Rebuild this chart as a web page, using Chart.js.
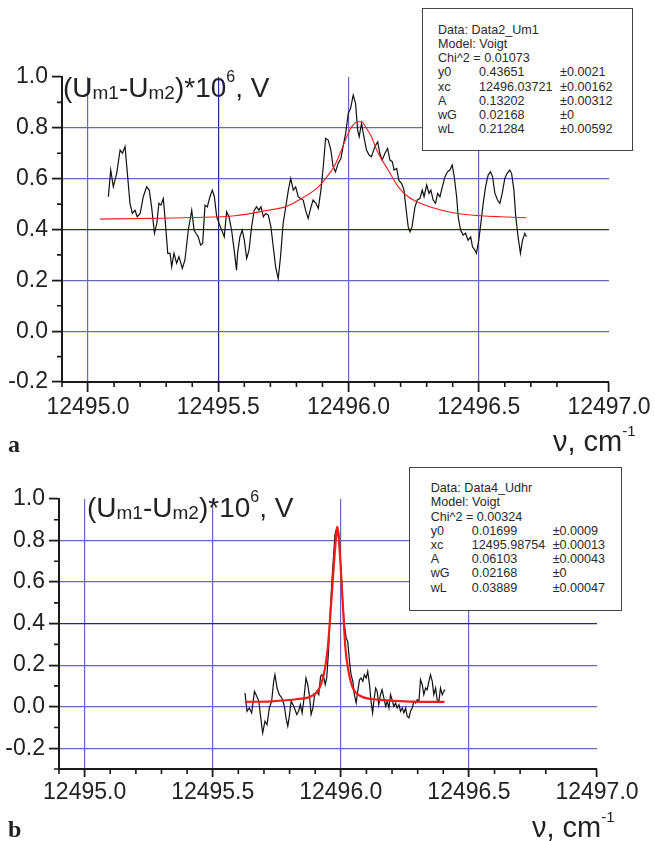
<!DOCTYPE html>
<html>
<head>
<meta charset="utf-8">
<script src="https://cdn.jsdelivr.net/npm/chart.js@4.4.0/dist/chart.umd.min.js"></script>
<style>
  body { margin: 0; background: #fff; }
  #page { position: relative; width: 655px; height: 841px; overflow: hidden; font-family: "Liberation Sans", Arial, sans-serif; color: #222; }
  canvas { position: absolute; left: 0; }
  .t { position: absolute; white-space: nowrap; line-height: 1; }
  .ytitle { font-size: 28px; }
  .ytitle .sub { font-size: 19px; position: relative; top: 2px; }
  .ytitle .sup { font-size: 16px; position: relative; top: -15px; }
  .xtitle { font-size: 29px; }
  .xtitle .sup { font-size: 15px; position: relative; top: -15px; }
  .panel { font-family: "Liberation Serif", "Times New Roman", serif; font-weight: bold; font-size: 24px; }
  .box { position: absolute; background: #fff; border: 1.3px solid #444; box-sizing: border-box; font-size: 12.6px; color: #2a2a2a; line-height: 14.2px; white-space: nowrap; }
  .c1 { display: inline-block; width: 41px; }
  .c2 { display: inline-block; width: 81px; }
</style>
</head>
<body>
<div id="page">
  <canvas id="chartA" width="655" height="440" style="top:0"></canvas>
  <canvas id="chartB" width="655" height="401" style="top:440px"></canvas>

  <div class="t ytitle" style="left:63px; top:74px">(U<span class="sub">m1</span>-U<span class="sub">m2</span>)*10<span class="sup">6</span>, V</div>
  <div class="t ytitle" style="left:87px; top:494px">(U<span class="sub">m1</span>-U<span class="sub">m2</span>)*10<span class="sup">6</span>, V</div>

  <div class="t xtitle" style="left:553px; top:427px">ν, cm<span class="sup">-1</span></div>
  <div class="t xtitle" style="left:532px; top:813px">ν, cm<span class="sup">-1</span></div>

  <div class="t panel" style="left:8px; top:432px">a</div>
  <div class="t panel" style="left:8px; top:817px">b</div>

  <div class="box" style="left:422px; top:8px; width:211px; height:143px; padding:13.8px 0 0 15px">
    <div>Data: Data2_Um1</div>
    <div>Model: Voigt</div>
    <div>Chi^2 = 0.01073</div>
    <div><span class="c1">y0</span><span class="c2">0.43651</span>±0.0021</div>
    <div><span class="c1">xc</span><span class="c2">12496.03721</span>±0.00162</div>
    <div><span class="c1">A</span><span class="c2">0.13202</span>±0.00312</div>
    <div><span class="c1">wG</span><span class="c2">0.02168</span>±0</div>
    <div><span class="c1">wL</span><span class="c2">0.21284</span>±0.00592</div>
  </div>

  <div class="box" style="left:409px; top:467px; width:213px; height:144px; padding:13.2px 0 0 20.7px">
    <div>Data: Data4_Udhr</div>
    <div>Model: Voigt</div>
    <div>Chi^2 = 0.00324</div>
    <div><span class="c1">y0</span><span class="c2">0.01699</span>±0.0009</div>
    <div><span class="c1">xc</span><span class="c2">12495.98754</span>±0.00013</div>
    <div><span class="c1">A</span><span class="c2">0.06103</span>±0.00043</div>
    <div><span class="c1">wG</span><span class="c2">0.02168</span>±0</div>
    <div><span class="c1">wL</span><span class="c2">0.03889</span>±0.00047</div>
  </div>
</div>

<script>
// panel a: measured signal (Data2_Um1)
const aNu = [12495.078, 12495.087, 12495.097, 12495.110, 12495.123, 12495.132, 12495.142, 12495.151, 12495.161, 12495.170,
  12495.180, 12495.189, 12495.200, 12495.212, 12495.225, 12495.235, 12495.244, 12495.255, 12495.264, 12495.272,
  12495.280, 12495.289, 12495.295, 12495.306, 12495.315, 12495.321, 12495.330, 12495.340, 12495.349, 12495.362,
  12495.372, 12495.385, 12495.398, 12495.407, 12495.414, 12495.423, 12495.432, 12495.440, 12495.449, 12495.458,
  12495.468, 12495.477, 12495.485, 12495.494, 12495.503, 12495.513, 12495.523, 12495.532, 12495.541, 12495.551,
  12495.561, 12495.570, 12495.574, 12495.583, 12495.592, 12495.600, 12495.609, 12495.618, 12495.628, 12495.638,
  12495.647, 12495.656, 12495.664, 12495.673, 12495.682, 12495.692, 12495.702, 12495.711, 12495.720, 12495.730,
  12495.739, 12495.749, 12495.759, 12495.769, 12495.778, 12495.788, 12495.797, 12495.807, 12495.816, 12495.826,
  12495.835, 12495.845, 12495.856, 12495.864, 12495.875, 12495.884, 12495.894, 12495.903, 12495.912, 12495.922,
  12495.932, 12495.941, 12495.950, 12495.960, 12495.971, 12495.979, 12495.989, 12495.999, 12496.008, 12496.018,
  12496.027, 12496.035, 12496.041, 12496.050, 12496.059, 12496.069, 12496.079, 12496.088, 12496.101, 12496.112,
  12496.120, 12496.129, 12496.140, 12496.150, 12496.159, 12496.168, 12496.175, 12496.185, 12496.193, 12496.204,
  12496.213, 12496.220, 12496.229, 12496.236, 12496.244, 12496.255, 12496.264, 12496.274, 12496.283, 12496.290,
  12496.300, 12496.309, 12496.316, 12496.325, 12496.334, 12496.342, 12496.351, 12496.360, 12496.370, 12496.380,
  12496.389, 12496.398, 12496.406, 12496.415, 12496.421, 12496.430, 12496.440, 12496.449, 12496.459, 12496.469,
  12496.476, 12496.485, 12496.491, 12496.500, 12496.508, 12496.517, 12496.526, 12496.536, 12496.545, 12496.553,
  12496.562, 12496.572, 12496.581, 12496.590, 12496.600, 12496.609, 12496.619, 12496.626, 12496.635, 12496.642,
  12496.651, 12496.660, 12496.668, 12496.677, 12496.683];
const aSignal = [0.529, 0.634, 0.568, 0.621, 0.713, 0.700, 0.726, 0.621, 0.503, 0.463,
  0.476, 0.450, 0.463, 0.529, 0.568, 0.555, 0.489, 0.385, 0.424, 0.503,
  0.496, 0.522, 0.450, 0.306, 0.306, 0.253, 0.306, 0.267, 0.293, 0.247,
  0.280, 0.398, 0.476, 0.398, 0.385, 0.371, 0.339, 0.345, 0.496, 0.489,
  0.529, 0.555, 0.529, 0.450, 0.424, 0.398, 0.371, 0.470, 0.450, 0.398,
  0.319, 0.240, 0.306, 0.371, 0.398, 0.358, 0.286, 0.319, 0.411, 0.476,
  0.489, 0.476, 0.489, 0.450, 0.463, 0.457, 0.411, 0.332, 0.253, 0.207,
  0.293, 0.424, 0.489, 0.555, 0.601, 0.555, 0.568, 0.529, 0.522, 0.516,
  0.476, 0.444, 0.489, 0.516, 0.503, 0.483, 0.555, 0.647, 0.759, 0.752,
  0.713, 0.647, 0.627, 0.660, 0.680, 0.726, 0.778, 0.857, 0.877, 0.929,
  0.896, 0.791, 0.765, 0.818, 0.765, 0.713, 0.693, 0.686, 0.726, 0.745,
  0.700, 0.673, 0.700, 0.719, 0.673, 0.667, 0.634, 0.640, 0.594, 0.581,
  0.555, 0.489, 0.411, 0.391, 0.411, 0.489, 0.516, 0.522, 0.555, 0.529,
  0.575, 0.542, 0.555, 0.516, 0.503, 0.542, 0.529, 0.568, 0.607, 0.627,
  0.634, 0.654, 0.607, 0.529, 0.450, 0.398, 0.378, 0.385, 0.358, 0.371,
  0.332, 0.319, 0.306, 0.358, 0.424, 0.503, 0.568, 0.614, 0.627, 0.607,
  0.542, 0.516, 0.503, 0.542, 0.601, 0.621, 0.634, 0.621, 0.555, 0.450,
  0.371, 0.306, 0.358, 0.385, 0.371];

// panel a: Voigt fit
const aFitNu = [12495.046, 12495.200, 12495.400, 12495.564, 12495.692, 12495.756, 12495.820, 12495.884, 12495.922, 12495.948,
  12495.973, 12495.993, 12496.012, 12496.037, 12496.050, 12496.069, 12496.088, 12496.108, 12496.152, 12496.191,
  12496.229, 12496.293, 12496.357, 12496.433, 12496.510, 12496.587, 12496.683];
const aFit = [0.441, 0.443, 0.447, 0.454, 0.476, 0.489, 0.522, 0.568, 0.614, 0.654,
  0.713, 0.765, 0.804, 0.824, 0.824, 0.798, 0.765, 0.713, 0.634, 0.568,
  0.529, 0.496, 0.476, 0.461, 0.454, 0.450, 0.446];

// panel b: measured signal (Data4_Udhr)
const bNu = [12495.626, 12495.634, 12495.643, 12495.652, 12495.663, 12495.672, 12495.680, 12495.686, 12495.695, 12495.704,
  12495.712, 12495.721, 12495.730, 12495.738, 12495.743, 12495.751, 12495.760, 12495.770, 12495.780, 12495.786,
  12495.793, 12495.800, 12495.806, 12495.813, 12495.819, 12495.828, 12495.835, 12495.842, 12495.849, 12495.855,
  12495.864, 12495.871, 12495.878, 12495.884, 12495.891, 12495.897, 12495.906, 12495.914, 12495.921, 12495.927,
  12495.934, 12495.939, 12495.945, 12495.952, 12495.958, 12495.965, 12495.972, 12495.977, 12495.982, 12495.986,
  12495.991, 12495.995, 12496.001, 12496.008, 12496.014, 12496.021, 12496.027, 12496.034, 12496.040, 12496.047,
  12496.053, 12496.060, 12496.066, 12496.073, 12496.079, 12496.086, 12496.092, 12496.099, 12496.105, 12496.112,
  12496.118, 12496.124, 12496.129, 12496.136, 12496.142, 12496.148, 12496.155, 12496.161, 12496.168, 12496.175,
  12496.181, 12496.188, 12496.194, 12496.200, 12496.207, 12496.214, 12496.220, 12496.227, 12496.233, 12496.240,
  12496.246, 12496.253, 12496.259, 12496.266, 12496.272, 12496.279, 12496.285, 12496.292, 12496.298, 12496.305,
  12496.311, 12496.318, 12496.324, 12496.331, 12496.337, 12496.344, 12496.350, 12496.357, 12496.363, 12496.370,
  12496.376, 12496.383, 12496.389, 12496.396, 12496.402, 12496.407];
const bSignal = [0.066, -0.022, -0.006, -0.030, 0.074, 0.050, 0.026, -0.038, -0.127, -0.070,
  -0.087, -0.006, 0.026, 0.122, 0.154, 0.090, 0.058, 0.042, 0.002, -0.054,
  -0.094, -0.038, 0.026, 0.010, -0.006, -0.038, -0.022, 0.010, -0.030, 0.026,
  0.138, 0.106, 0.050, -0.038, -0.006, 0.050, 0.074, 0.058, 0.146, 0.154,
  0.138, 0.106, 0.138, 0.266, 0.442, 0.602, 0.731, 0.827, 0.851, 0.827,
  0.843, 0.787, 0.650, 0.490, 0.394, 0.330, 0.314, 0.218, 0.154, 0.122,
  0.058, 0.018, 0.074, 0.130, 0.138, 0.122, 0.154, 0.138, 0.170, 0.106,
  0.026, -0.030, 0.026, 0.090, 0.074, 0.010, 0.058, 0.082, 0.042, 0.002,
  0.026, -0.006, 0.058, 0.034, 0.002, 0.018, -0.006, 0.010, -0.022, -0.006,
  -0.030, -0.006, -0.046, -0.054, -0.022, -0.006, 0.026, 0.018, 0.034, 0.026,
  0.130, 0.106, 0.058, 0.090, 0.082, 0.122, 0.154, 0.122, 0.058, 0.090,
  0.034, 0.026, 0.090, 0.058, 0.074, 0.082];

// panel b: Voigt fit
const bFitNu = [12495.626, 12495.728, 12495.832, 12495.884, 12495.917, 12495.936, 12495.949, 12495.962, 12495.973, 12495.982,
  12495.986, 12495.991, 12495.999, 12496.008, 12496.018, 12496.030, 12496.047, 12496.079, 12496.145, 12496.249,
  12496.405];
const bFit = [0.023, 0.026, 0.037, 0.050, 0.090, 0.170, 0.282, 0.490, 0.683, 0.827,
  0.867, 0.827, 0.683, 0.490, 0.282, 0.170, 0.090, 0.050, 0.034, 0.026,
  0.023];

const NU_MIN = 12494.9, NU_MAX = 12497.0;
const FONT = '"Liberation Sans", Arial, sans-serif';
const AXIS = '#1a1a1a';
const GRID_LIGHT = '#6666ba';
const GRID_DARK = '#25258a';

function isMajor(v, step) {
  return Math.abs(v / step - Math.round(v / step)) < 1e-6;
}
function near(a, b) { return Math.abs(a - b) < 1e-6; }
function fmt(v) { return Math.abs(v) < 1e-9 ? '0.0' : v.toFixed(1); }

// short minor ticks (every 0.1) drawn at the scale's own tick positions
const minorTicks = {
  id: 'minorTicks',
  afterDraw(chart) {
    const ctx = chart.ctx, x = chart.scales.x, y = chart.scales.y;
    ctx.save();
    ctx.strokeStyle = AXIS;
    ctx.lineWidth = 1.6;
    ctx.beginPath();
    x.ticks.forEach(t => {
      if (isMajor(t.value, 0.5)) return;
      const px = x.getPixelForValue(t.value);
      ctx.moveTo(px, x.top);
      ctx.lineTo(px, x.top + 5);
    });
    y.ticks.forEach(t => {
      if (isMajor(t.value, 0.2)) return;
      const py = y.getPixelForValue(t.value);
      ctx.moveTo(y.right, py);
      ctx.lineTo(y.right - 5, py);
    });
    ctx.stroke();
    ctx.restore();
  }
};

function makePanel(canvas, p) {
  return new Chart(canvas, {
    type: 'line',
    data: {
      datasets: [
        {
          data: p.fitNu.map((v, i) => ({ x: v, y: p.fit[i] })),
          borderColor: '#f21c1c',
          borderWidth: p.fitWidth,
          pointRadius: 0,
          cubicInterpolationMode: 'monotone'
        },
        {
          data: p.nu.map((v, i) => ({ x: v, y: p.signal[i] })),
          borderColor: '#111',
          borderWidth: 1.2,
          pointRadius: 0,
          tension: 0
        }
      ]
    },
    options: {
      responsive: false,
      animation: false,
      events: [],
      layout: { padding: { top: p.top, right: p.right, left: 0, bottom: 0 } },
      plugins: { legend: { display: false }, tooltip: { enabled: false } },
      scales: {
        x: {
          type: 'linear',
          min: NU_MIN,
          max: NU_MAX,
          afterFit(s) { s.height = p.xAxisHeight; },
          border: { display: true, color: AXIS, width: 2 },
          grid: {
            lineWidth: 1.2,
            tickLength: p.xTickLen,
            tickWidth: 1.8,
            color: c => {
              const v = c.tick.value;
              if (!isMajor(v, 0.5) || near(v, NU_MAX)) return 'rgba(0,0,0,0)';
              return p.darkX.some(d => near(d, v)) ? GRID_DARK : GRID_LIGHT;
            },
            tickColor: c => isMajor(c.tick.value, 0.5) ? AXIS : 'rgba(0,0,0,0)'
          },
          ticks: {
            stepSize: 0.1,
            autoSkip: false,
            maxRotation: 0,
            minRotation: 0,
            padding: 2,
            color: '#222',
            font: { family: FONT, size: 23 },
            callback: v => isMajor(v, 0.5) ? fmt(v) : ''
          }
        },
        y: {
          min: p.yMin,
          max: 1.0,
          afterFit(s) { s.width = p.left; },
          border: { display: true, color: AXIS, width: 2 },
          grid: {
            lineWidth: 1.2,
            tickLength: 10,
            tickWidth: 1.8,
            color: c => {
              const v = c.tick.value;
              if (!isMajor(v, 0.2) || near(v, 1.0) || near(v, -0.2) && p.yMin > -0.25) return 'rgba(0,0,0,0)';
              return p.darkY.some(d => near(d, v)) ? GRID_DARK : GRID_LIGHT;
            },
            tickColor: c => isMajor(c.tick.value, 0.2) ? AXIS : 'rgba(0,0,0,0)'
          },
          ticks: {
            stepSize: 0.1,
            autoSkip: false,
            padding: 4,
            color: '#222',
            font: { family: FONT, size: 23 },
            callback: v => isMajor(v, 0.2) ? fmt(v) : ''
          }
        }
      }
    },
    plugins: [minorTicks]
  });
}

makePanel(document.getElementById('chartA'), {
  nu: aNu, signal: aSignal, fitNu: aFitNu, fit: aFit,
  fitWidth: 1.1, yMin: -0.2,
  top: 77, right: 46, left: 62, xAxisHeight: 58, xTickLen: 10,
  darkX: [12495.5], darkY: [0.4]
});

makePanel(document.getElementById('chartB'), {
  nu: bNu, signal: bSignal, fitNu: bFitNu, fit: bFit,
  fitWidth: 2.2, yMin: -0.3,
  top: 59, right: 58, left: 59, xAxisHeight: 72, xTickLen: 8,
  darkX: [], darkY: [0.4]
});
</script>
</body>
</html>
